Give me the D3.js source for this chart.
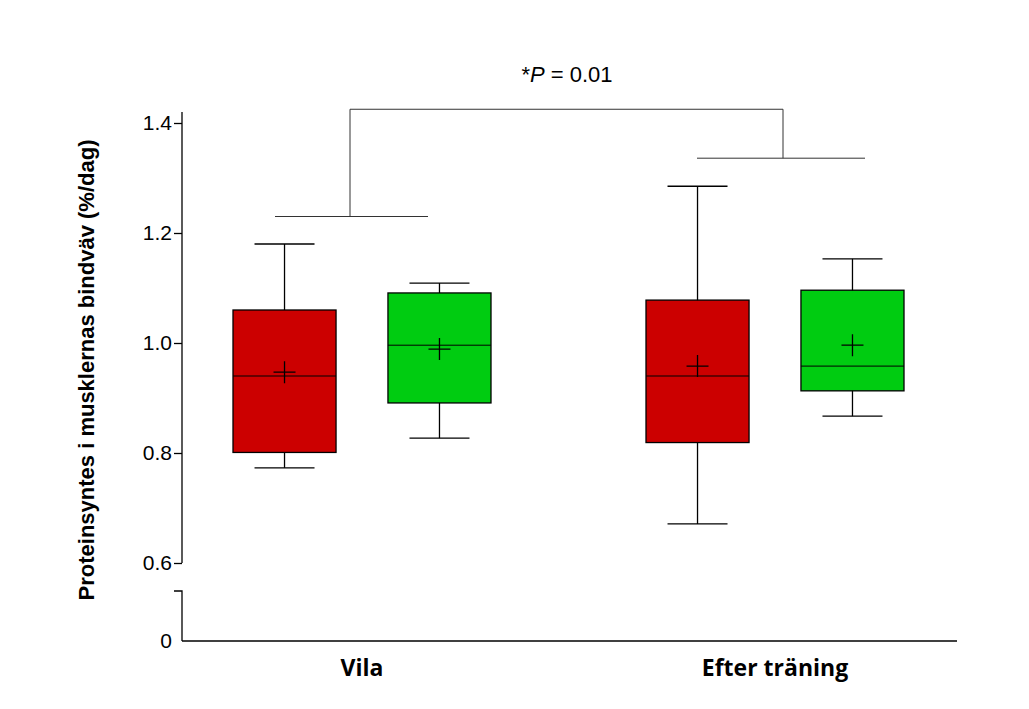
<!DOCTYPE html>
<html><head><meta charset="utf-8">
<script src="https://cdn.jsdelivr.net/npm/d3@7/dist/d3.min.js"></script>
<style>body{margin:0;background:#fff}</style></head>
<body><svg id="c" width="1029" height="709"></svg>
<script>
const categories = ["Vila","Efter träning"];
const series = ["A","B"];
const colors = ["#cc0000","#00cc11"];
// [whiskerLow, q1, median, q3, whiskerHigh, mean]
const boxValues = [
  [[0.773,0.801,0.940,1.060,1.180,0.947],[0.827,0.891,0.996,1.091,1.109,0.989]],
  [[0.671,0.819,0.940,1.078,1.285,0.958],[0.867,0.913,0.958,1.096,1.153,0.996]]
];
const yTicks = [0.6,0.8,1.0,1.2,1.4];
const bracketLevels = [1.23,1.336,1.425];
const pText = "= 0.01";

const svg = d3.select("#c");
const font = "Liberation Sans, Arial, sans-serif";
const y = d3.scaleLinear().domain([0.6,1.4]).range([563,123]);
const x = d3.scaleBand().domain(categories).range([182,1008]).paddingInner(0);
const xs = d3.scaleBand().domain(series).range([51,309]).paddingInner(0.335).paddingOuter(0);

const ax = svg.append("g").attr("transform","translate(182,0)")
  .call(d3.axisLeft(y).tickValues(yTicks).tickFormat(d3.format(".1f")).tickSize(8).tickSizeOuter(0));
ax.select(".domain").attr("d","M0,"+y(1.42)+"V"+y(0.6)).attr("stroke","#000").attr("stroke-width",1.3);
ax.selectAll("text").attr("font-family",font).style("font-size","21px").attr("fill","#000").attr("x",-10);
ax.selectAll("line").attr("stroke-width",1.3);
svg.append("path").attr("d","M174,591H182V641").attr("stroke","#000").attr("fill","none").attr("stroke-width",1.3);
svg.append("text").attr("x",172).attr("y",648).attr("text-anchor","end").attr("font-family",font).style("font-size","21px").text("0");
svg.append("line").attr("x1",182).attr("x2",957).attr("y1",641).attr("y2",641).attr("stroke","#000").attr("stroke-width",1.3);

categories.forEach((c,i)=>{
  svg.append("text").attr("x",x(c)+180).attr("y",676).attr("text-anchor","middle")
    .attr("font-family","Open Sans, sans-serif").attr("font-weight","bold").style("font-size","23px").text(c);
  series.forEach((s,j)=>{
    const v = boxValues[i][j];
    const x0 = x(c)+xs(s), w = xs.bandwidth(), cx = x0+w/2;
    const g = svg.append("g").attr("stroke","#000").attr("stroke-width",1.3);
    g.append("line").attr("x1",cx).attr("x2",cx).attr("y1",y(v[0])).attr("y2",y(v[4]));
    g.append("line").attr("x1",cx-30).attr("x2",cx+30).attr("y1",y(v[0])).attr("y2",y(v[0]));
    g.append("line").attr("x1",cx-30).attr("x2",cx+30).attr("y1",y(v[4])).attr("y2",y(v[4]));
    g.append("rect").attr("x",x0).attr("width",w).attr("y",y(v[3])).attr("height",y(v[1])-y(v[3])).attr("fill",colors[j]);
    g.append("line").attr("x1",x0).attr("x2",x0+w).attr("y1",y(v[2])).attr("y2",y(v[2])).attr("stroke-width",1);
    g.append("path").attr("d",`M${cx-11},${y(v[5])}H${cx+11}M${cx},${y(v[5])-11}V${y(v[5])+11}`).attr("stroke-width",1.3);
  });
});

const c1 = x(categories[0])+180, c2 = x(categories[1])+180;
const b = svg.append("g").attr("stroke","#333").attr("fill","none").attr("stroke-width",1);
b.append("line").attr("x1",c1-87).attr("x2",c1+66).attr("y1",y(bracketLevels[0])).attr("y2",y(bracketLevels[0]));
b.append("line").attr("x1",c2-78).attr("x2",c2+90).attr("y1",y(bracketLevels[1])).attr("y2",y(bracketLevels[1]));
b.append("path").attr("d",`M${c1-12},${y(bracketLevels[0])}V${y(bracketLevels[2])}H${c2+8}V${y(bracketLevels[1])}`);
const t = svg.append("text").attr("x",567).attr("y",82).attr("text-anchor","middle").attr("font-family",font).style("font-size","22px");
t.append("tspan").text("*");
t.append("tspan").attr("font-style","italic").text("P");
t.append("tspan").text(" "+pText);

svg.append("text").attr("transform","translate(94,370) rotate(-90)").attr("text-anchor","middle")
  .attr("font-family",font).attr("font-weight","bold").style("font-size","22px").text("Proteinsyntes i musklernas bindväv (%/dag)");
</script></body></html>
